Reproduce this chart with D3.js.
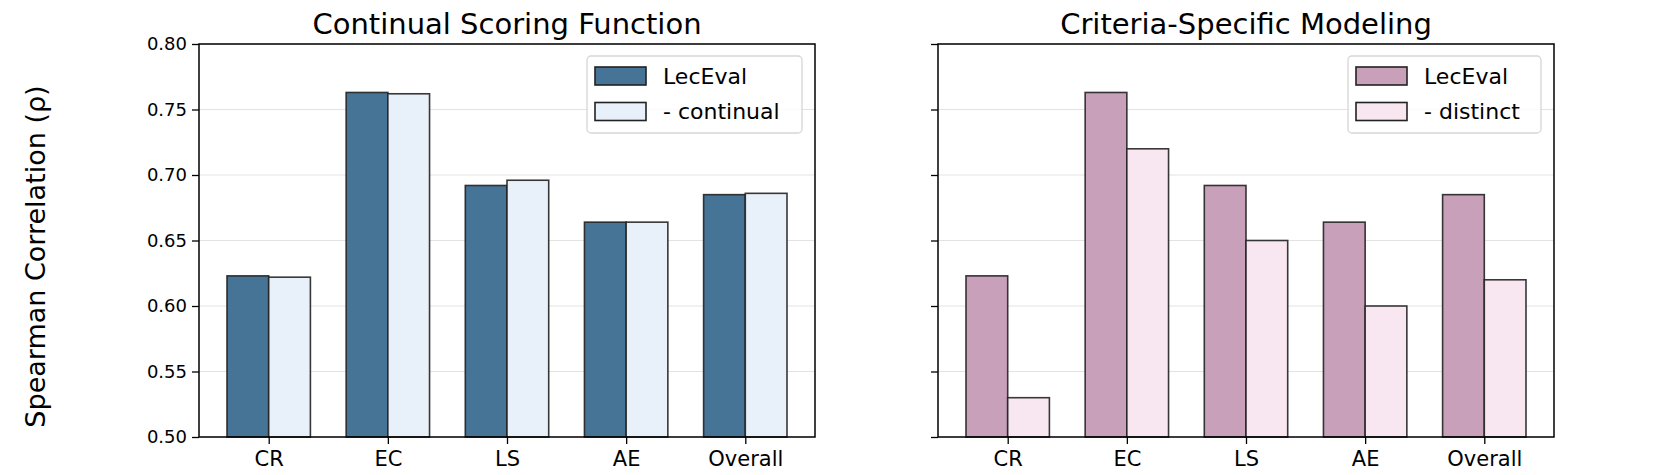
<!DOCTYPE html>
<html>
<head>
<meta charset="utf-8">
<script src="https://cdn.jsdelivr.net/npm/d3@7"></script>
<style>
  body { margin: 0; background: #fff; }
  svg, svg text { font-family: "DejaVu Sans", sans-serif; }
</style>
</head>
<body>
<svg id="chart"></svg>
<script>
const categories = ["CR", "EC", "LS", "AE", "Overall"];
const leceval = [0.623, 0.763, 0.692, 0.664, 0.685];
const continual = [0.622, 0.762, 0.696, 0.664, 0.686];
const distinct = [0.530, 0.720, 0.650, 0.600, 0.620];
const yTicks = [0.50, 0.55, 0.60, 0.65, 0.70, 0.75, 0.80];

const width = 1660;
const height = 475;

const svg = d3.select("#chart")
  .attr("width", width)
  .attr("height", height);

const plotTop = 44, plotBottom = 437, panelW = 616;

const y = d3.scaleLinear()
  .domain([0.5, 0.8])
  .range([plotBottom, plotTop]);

const panels = [
  { left: 199, title: "Continual Scoring Function", base: leceval, other: continual,
    names: ["LecEval", "- continual"], colors: ["#457497", "#e8f0fa"], showY: true },
  { left: 938, title: "Criteria-Specific Modeling", base: leceval, other: distinct,
    names: ["LecEval", "- distinct"], colors: ["#c9a0ba", "#f8e6f0"], showY: false }
];

const barW = 0.35;

panels.forEach(p => {
  const x = d3.scaleLinear()
    .domain([-0.585, 4.585])
    .range([p.left, p.left + panelW]);

  const g = svg.append("g");

  // grid
  g.selectAll("line.grid")
    .data(yTicks)
    .enter()
    .append("line")
    .attr("x1", p.left)
    .attr("x2", p.left + panelW)
    .attr("y1", d => y(d))
    .attr("y2", d => y(d))
    .attr("stroke", "#e3e3e3")
    .attr("stroke-width", 1.2);

  // bars
  const series = [p.base, p.other];
  series.forEach((vals, s) => {
    g.selectAll("rect.s" + s)
      .data(vals)
      .enter()
      .append("rect")
      .attr("x", (d, i) => x(i - barW + s * barW))
      .attr("width", x(barW) - x(0))
      .attr("y", d => y(d))
      .attr("height", d => y(0.5) - y(d))
      .attr("fill", p.colors[s])
      .attr("stroke", "#222")
      .attr("stroke-opacity", 0.9)
      .attr("stroke-width", 1.6);
  });

  // axes
  const yAxis = d3.axisLeft(y)
    .tickValues(yTicks)
    .tickSize(7)
    .tickPadding(5)
    .tickFormat(p.showY ? d3.format(".2f") : "");
  const ya = g.append("g")
    .attr("transform", `translate(${p.left},0)`)
    .call(yAxis);
  ya.attr("font-family", "DejaVu Sans");
  ya.select(".domain").remove();
  ya.selectAll("line").attr("stroke", "#000").attr("stroke-width", 1.3);
  ya.selectAll("text").attr("font-size", 18).attr("fill", "#000");

  const xAxis = d3.axisBottom(x)
    .tickValues(d3.range(categories.length))
    .tickSize(7)
    .tickPadding(7)
    .tickFormat(i => categories[i]);
  const xa = g.append("g")
    .attr("transform", `translate(0,${plotBottom})`)
    .call(xAxis);
  xa.attr("font-family", "DejaVu Sans");
  xa.select(".domain").remove();
  xa.selectAll("line").attr("stroke", "#000").attr("stroke-width", 1.3);
  xa.selectAll("text").attr("font-size", 21).attr("fill", "#000");

  // frame
  g.append("rect")
    .attr("x", p.left)
    .attr("y", plotTop)
    .attr("width", panelW)
    .attr("height", plotBottom - plotTop)
    .attr("fill", "none")
    .attr("stroke", "#000")
    .attr("stroke-width", 1.5);

  // title
  g.append("text")
    .attr("x", p.left + panelW / 2)
    .attr("y", 34)
    .attr("text-anchor", "middle")
    .attr("font-size", 29)
    .text(p.title);

  // legend
  const lgRight = p.left + panelW - 13;
  const lgW = p.showY ? 215 : 193;
  const lgX = lgRight - lgW;
  const lg = g.append("g");
  lg.append("rect")
    .attr("x", lgX)
    .attr("y", 56)
    .attr("width", lgW)
    .attr("height", 77)
    .attr("rx", 4)
    .attr("fill", "#fff")
    .attr("fill-opacity", 0.8)
    .attr("stroke", "#d6d6d6")
    .attr("stroke-width", 1.3);
  p.names.forEach((n, k) => {
    const cy = 76 + k * 35.5;
    lg.append("rect")
      .attr("x", lgX + 8)
      .attr("y", cy - 9)
      .attr("width", 51)
      .attr("height", 18)
      .attr("fill", p.colors[k])
      .attr("stroke", "#222")
      .attr("stroke-width", 1.6);
    lg.append("text")
      .attr("x", lgX + 76)
      .attr("y", cy)
      .attr("dy", "0.36em")
      .attr("font-size", 22)
      .text(n);
  });
});

// shared y label
svg.append("text")
  .attr("transform", `translate(45,${(plotTop + plotBottom) / 2 + 16}) rotate(-90)`)
  .attr("text-anchor", "middle")
  .attr("font-size", 27)
  .text("Spearman Correlation (ρ)");
</script>
</body>
</html>
